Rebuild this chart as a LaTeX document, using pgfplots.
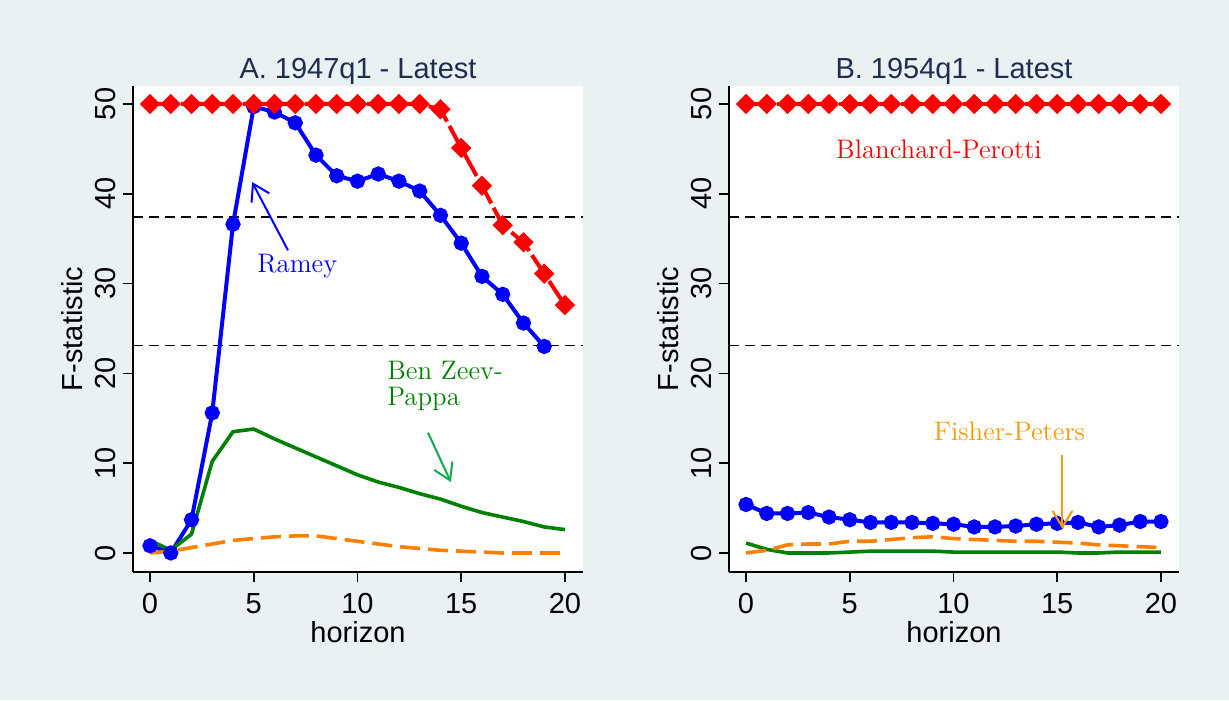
\documentclass[border=0pt]{standalone}
\usepackage{fontspec}
\setsansfont{Liberation Sans}
\usepackage{pgfplots}
\pgfplotsset{compat=1.18}
\usetikzlibrary{arrows.meta}

\definecolor{bgc}{RGB}{233,241,243}
\definecolor{ttl}{RGB}{30,45,80}
\definecolor{sblue}{RGB}{0,0,255}
\definecolor{sred}{RGB}{255,0,0}
\definecolor{sgreen}{RGB}{0,128,0}
\definecolor{sorange}{RGB}{255,128,0}
\definecolor{agreen}{RGB}{20,170,80}
\definecolor{aorange}{RGB}{248,155,0}

\newcommand{\lab}{\sffamily\fontsize{14.5}{16}\selectfont}
\newcommand{\ann}{\rmfamily\fontsize{13.4}{13}\selectfont}

\tikzset{arr/.style={line width=1pt, -{Straight Barb[length=8pt, width=10pt, line width=1pt]}}}

\pgfplotsset{
  stata/.style={
    scale only axis, width=225pt, height=243pt,
    xmin=-0.82, xmax=20.87, ymin=-2.12, ymax=52,
    axis x line*=bottom, axis y line*=left,
    axis line style={black, line width=0.8pt, -},
    tick align=outside, major tick length=5pt,
    tick style={black, line width=0.8pt},
    xtick={0,5,...,20}, ytick={0,10,...,50},
    ticklabel style={font=\lab},
    /pgf/number format/assume math mode=true,
    yticklabel style={rotate=90, anchor=south},
    xticklabel style={yshift=-2pt},
    xlabel={horizon}, ylabel={F-statistic},
    label style={font=\lab},
    xlabel style={at={([yshift=-30pt]axis description cs:0.5,0)}, anchor=center},
    ylabel style={at={([xshift=-30.5pt]axis description cs:0,0.5)}, anchor=center},
    title style={font=\lab, text=ttl, at={(0.5,1)}, anchor=base, yshift=-2.5pt},
    axis background/.style={fill=white},
  },
  hline/.style={black, line width=0.85pt, dash pattern=on 5pt off 3pt, forget plot},
  ramey/.style={sblue, line width=2pt, mark=*, mark size=2.8pt, mark options={solid}},
  bzp/.style={sgreen, line width=1.8pt, no marks},
  fp/.style={sorange, line width=1.8pt, no marks, dash pattern=on 10pt off 4pt},
  bp/.style={sred, line width=2pt, mark=square*, mark size=2.6pt, mark options={solid, rotate=45}, dash pattern=on 13pt off 2.5pt},
}

\begin{document}
\begin{tikzpicture}
\fill[bgc] (0,0) rectangle (614.5pt,350pt);
\useasboundingbox (0,0) rectangle (614.5pt,350pt);

% panel A
\begin{axis}[stata, at={(66.5pt,64pt)}, anchor=south west, title={A. 1947q1 - Latest}]
\addplot[hline] coordinates {(-0.82,37.4) (20.87,37.4)};
\addplot[hline] coordinates {(-0.82,23.1) (20.87,23.1)};
\addplot[ramey] coordinates {
 (0,0.8) (1,0.0) (2,3.7) (3,15.6) (4,36.6) (5,49.7) (6,49.1) (7,47.9) (8,44.3) (9,42.0)
 (10,41.4) (11,42.2) (12,41.4) (13,40.3) (14,37.6) (15,34.5) (16,30.8) (17,28.8) (18,25.6) (19,23.0)
};
\addplot[bzp] coordinates {
 (0,1.4) (1,0.3) (2,2.1) (3,10.2) (4,13.5) (5,13.8) (6,12.7) (7,11.7) (8,10.7) (9,9.7)
 (10,8.7) (11,7.9) (12,7.3) (13,6.6) (14,6.0) (15,5.2) (16,4.5) (17,4.0) (18,3.5) (19,2.9) (20,2.6)
};
\addplot[fp] coordinates {
 (0,0.0) (1,0.2) (2,0.6) (3,1.0) (4,1.4) (5,1.6) (6,1.8) (7,1.9) (8,1.9) (9,1.6)
 (10,1.3) (11,1.0) (12,0.7) (13,0.5) (14,0.3) (15,0.2) (16,0.1) (17,0.0) (18,0.0) (19,0.0) (20,0.0)
};
\addplot[bp] coordinates {
 (0,50) (1,50) (2,50) (3,50) (4,50) (5,50) (6,50) (7,50) (8,50) (9,50)
 (10,50) (11,50) (12,50) (13,50) (14,49.4) (15,45.1) (16,40.9) (17,36.5) (18,34.6) (19,31.1) (20,27.6)
};
\node[sblue, font=\ann] at (axis cs:7.1,32.0) {Ramey};
\node[sgreen, font=\ann, anchor=west, align=left] at (axis cs:11.1,18.6) {Ben Zeev-\\[0pt]Pappa};
\coordinate (ra0) at (axis cs:6.65,33.7);
\coordinate (ra1) at (axis cs:4.92,41.3);
\coordinate (bz0) at (axis cs:13.4,13.4);
\coordinate (bz1) at (axis cs:14.5,7.9);
\end{axis}

% panel B
\begin{axis}[stata, at={(364.5pt,64pt)}, anchor=south west, title={B. 1954q1 - Latest}]
\addplot[hline] coordinates {(-0.82,37.4) (20.87,37.4)};
\addplot[hline] coordinates {(-0.82,23.1) (20.87,23.1)};
\addplot[ramey] coordinates {
 (0,5.4) (1,4.4) (2,4.4) (3,4.5) (4,4.0) (5,3.7) (6,3.4) (7,3.4) (8,3.4) (9,3.3)
 (10,3.2) (11,2.9) (12,2.9) (13,3.0) (14,3.2) (15,3.3) (16,3.4) (17,2.9) (18,3.1) (19,3.5) (20,3.5)
};
\addplot[bzp] coordinates {
 (0,1.1) (1,0.4) (2,0.0) (3,0.0) (4,0.0) (5,0.1) (6,0.2) (7,0.2) (8,0.2) (9,0.2)
 (10,0.1) (11,0.1) (12,0.1) (13,0.1) (14,0.1) (15,0.1) (16,0.0) (17,0.0) (18,0.1) (19,0.1) (20,0.1)
};
\addplot[fp] coordinates {
 (0,0.0) (1,0.3) (2,0.9) (3,1.0) (4,1.0) (5,1.3) (6,1.3) (7,1.5) (8,1.7) (9,1.8)
 (10,1.6) (11,1.5) (12,1.4) (13,1.3) (14,1.3) (15,1.2) (16,1.1) (17,0.9) (18,0.8) (19,0.7) (20,0.6)
};
\addplot[bp] coordinates {
 (0,50) (1,50) (2,50) (3,50) (4,50) (5,50) (6,50) (7,50) (8,50) (9,50)
 (10,50) (11,50) (12,50) (13,50) (14,50) (15,50) (16,50) (17,50) (18,50) (19,50) (20,50)
};
\node[sred, font=\ann] at (axis cs:9.3,45.0) {Blanchard-Perotti};
\node[aorange, font=\ann] at (axis cs:12.7,13.5) {Fisher-Peters};
\coordinate (fp0) at (axis cs:15.25,10.9);
\coordinate (fp1) at (axis cs:15.25,2.7);
\end{axis}

% annotation arrows on top of the plotted series
\draw[sblue, arr] (ra0) -- (ra1);
\draw[agreen, arr] (bz0) -- (bz1);
\draw[aorange, arr] (fp0) -- (fp1);
\end{tikzpicture}
\end{document}
